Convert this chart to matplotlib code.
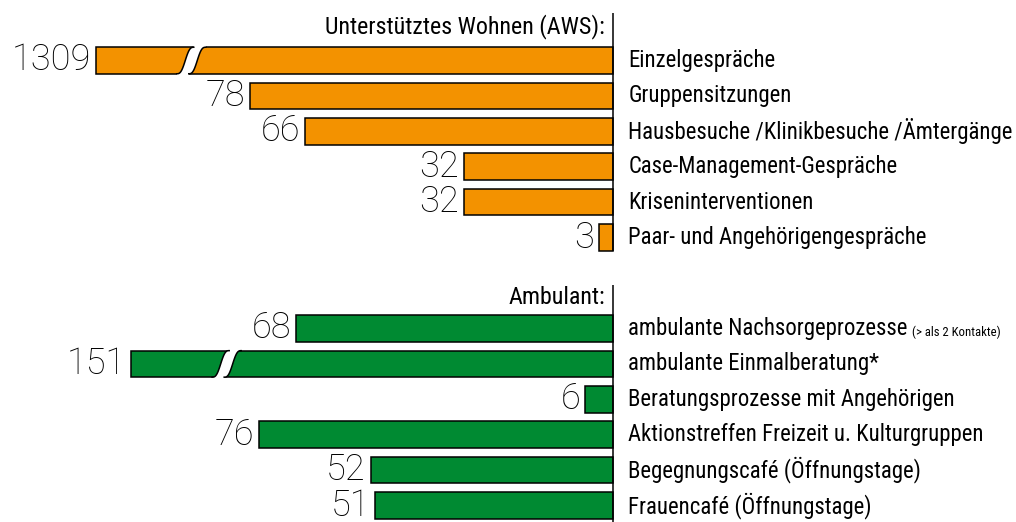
import numpy as np
import matplotlib
matplotlib.use("Agg")
import matplotlib.pyplot as plt
from matplotlib import font_manager as fm
from matplotlib.patches import Rectangle, Polygon

# ---------------- data ----------------
aws_title = "Unterstütztes Wohnen (AWS):"
aws_labels = ["Einzelgespräche", "Gruppensitzungen",
              "Hausbesuche /Klinikbesuche /Ämtergänge",
              "Case-Management-Gespräche", "Kriseninterventionen",
              "Paar- und Angehörigengespräche"]
aws_values = [1309, 78, 66, 32, 32, 3]

amb_title = "Ambulant:"
amb_labels = ["ambulante Nachsorgeprozesse", "ambulante Einmalberatung*",
              "Beratungsprozesse mit Angehörigen",
              "Aktionstreffen Freizeit u. Kulturgruppen",
              "Begegnungscafé (Öffnungstage)", "Frauencafé (Öffnungstage)"]
amb_notes = ["(> als 2 Kontakte)", "", "", "", "", ""]
amb_values = [68, 151, 6, 76, 52, 51]

ORANGE = "#F39200"
GREEN = "#008A32"

# ---------------- fonts ----------------
def pick(cands):
    for c in cands:
        try:
            fm.findfont(fm.FontProperties(family=c), fallback_to_default=False)
            return c
        except Exception:
            pass
    return "DejaVu Sans"

LABEL_FONT = pick(["Liberation Sans Narrow", "Roboto Condensed", "Liberation Sans"])
NUM_FONT = pick(["Roboto", "Lato", "Open Sans", "DejaVu Sans"])

# ---------------- layout ----------------
W, H = 1016, 522
PX_PER_UNIT = 4.66
AXIS_PX = 613
fig = plt.figure(figsize=(W / 100, H / 100), dpi=100)
ax = fig.add_axes([0, 0, 1, 1])
ax.set_xlim(AXIS_PX / PX_PER_UNIT, -(W - AXIS_PX) / PX_PER_UNIT)
ax.set_ylim(H, 0)
ax.axis("off")

BAR_H = 26.5
ROW = 35.4
U = 1.0 / PX_PER_UNIT  # one pixel in data units (x)
LABEL_SIZE = 16.4


def s_curve(x0, ybot, ytop, dx, n=40):
    s = np.linspace(0, 1, n)
    ys = ybot - (ybot - ytop) * (s - np.sin(2 * np.pi * s) / (2 * np.pi))
    xs = x0 - dx * s
    return xs, ys


def draw_section(title, labels, values, notes, color, y0, break_len,
                 title_y, axis_top, axis_bot):
    ax.plot([0, 0], [axis_top, axis_bot], color="black", lw=1.1,
            solid_capstyle="butt", zorder=4)
    ax.text(8 * U, title_y, title, ha="right", va="center",
            fontsize=17.3, family=[LABEL_FONT, "DejaVu Sans"], zorder=5)
    for i, (lab, v) in enumerate(zip(labels, values)):
        yc = y0 + i * ROW
        broken = v > break_len
        length = break_len if broken else v
        ax.add_patch(Rectangle((0, yc - BAR_H / 2), length, BAR_H,
                               facecolor=color, edgecolor="black", lw=1.1,
                               zorder=2))
        if broken:
            bc = length - 20.5
            dx = 17 * U
            gap = 12 * U
            ybot, ytop = yc + BAR_H / 2, yc - BAR_H / 2
            lx, ly = s_curve(bc + dx / 2 + gap / 2, ybot, ytop, dx)
            rx, ry = lx - gap, ly
            px = np.concatenate([[lx[0]], lx, [lx[-1], rx[-1]], rx[::-1], [rx[0]]])
            py = np.concatenate([[ybot + 2], ly, [ytop - 2, ytop - 2], ry[::-1], [ybot + 2]])
            ax.add_patch(Polygon(np.column_stack([px, py]), closed=True,
                                 facecolor="white", edgecolor="none", zorder=3))
            ax.plot(lx, ly, color="black", lw=1.1, zorder=3.5)
            ax.plot(rx, ry, color="black", lw=1.1, zorder=3.5)
        ax.annotate(str(v), xy=(length, yc), xytext=(-3.5, 0),
                    textcoords="offset points", ha="right", va="center",
                    fontsize=26, family=NUM_FONT, fontweight="light",
                    color="black", zorder=5)
        t = ax.annotate(lab, xy=(0, yc), xytext=(11, 0),
                        textcoords="offset points", ha="left", va="center",
                        fontsize=LABEL_SIZE, family=[LABEL_FONT, "DejaVu Sans"],
                        zorder=5)
        if notes and notes[i]:
            ax.annotate(notes[i], xy=(1, 0), xycoords=t, xytext=(3, 1),
                        textcoords="offset points", ha="left", va="bottom",
                        fontsize=9.2, family=[LABEL_FONT, "DejaVu Sans"],
                        zorder=5)


draw_section(aws_title, aws_labels, aws_values, None, ORANGE,
             y0=60.5, break_len=111.0, title_y=27,
             axis_top=13, axis_bot=251)
draw_section(amb_title, amb_labels, amb_values, amb_notes, GREEN,
             y0=328.5, break_len=103.4, title_y=297,
             axis_top=285, axis_bot=522)

fig.savefig("out.png", dpi=100)
